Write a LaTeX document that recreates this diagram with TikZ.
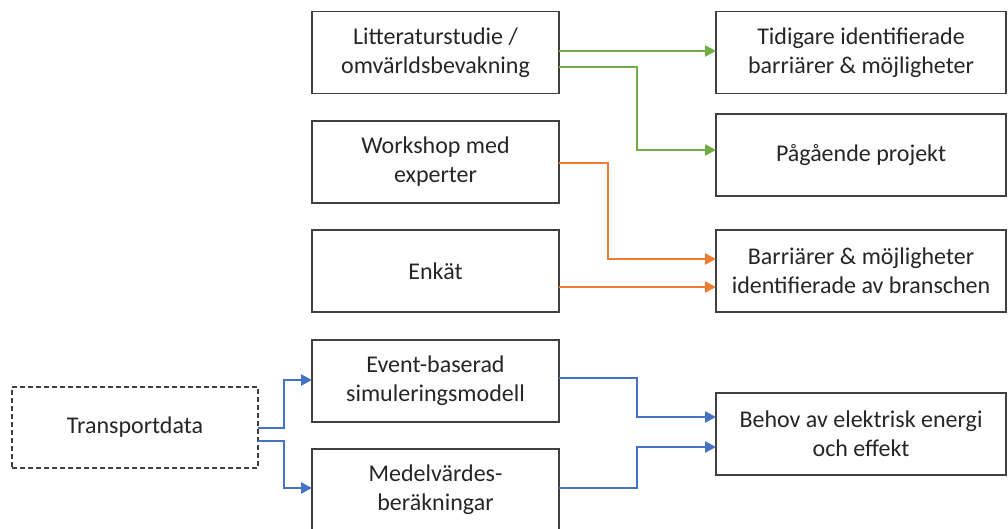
\documentclass[tikz,border=0pt]{standalone}
\usepackage{fontspec}
\setmainfont{Carlito}
\usetikzlibrary{arrows.meta}
\definecolor{boxline}{HTML}{404040}
\definecolor{txt}{HTML}{262626}
\definecolor{ggreen}{HTML}{70AD47}
\definecolor{gorange}{HTML}{ED7D31}
\definecolor{gblue}{HTML}{4472C4}
\tikzset{
  box/.style={draw=boxline, line width=1.6pt, fill=white, inner sep=0pt, outer sep=0pt,
    minimum height=82pt, align=center, text=txt,
    font=\fontsize{24}{29}\selectfont},
  leftbox/.style={box, minimum width=247pt},
  rightbox/.style={box, minimum width=290pt},
  conn/.style={line width=2.5pt, -{Triangle[length=11pt,width=11pt]}},
  gconn/.style={conn, draw=ggreen, ggreen},
  oconn/.style={conn, draw=gorange, gorange},
  bconn/.style={conn, draw=gblue, gblue},
}
\begin{document}
\begin{tikzpicture}[x=1pt,y=-1pt]
\useasboundingbox (0,0) rectangle (1008,528);
\clip (0,0) rectangle (1008,528);

\node[leftbox] (lit) at (435.5,52.5) {Litteraturstudie /\\omvärldsbevakning};
\node[leftbox] (work) at (435.5,162) {Workshop med\\experter};
\node[leftbox] (enk) at (435.5,271) {Enkät};
\node[leftbox] (event) at (435.5,381) {Event-baserad\\simuleringsmodell};
\node[leftbox] (medel) at (435.5,490) {Medelvärdes-\\beräkningar};

\node[rightbox] (tid) at (861,52.5) {Tidigare identifierade\\barriärer \& möjligheter};
\node[rightbox] (paa) at (861,155) {Pågående projekt};
\node[rightbox] (barr) at (861,271) {Barriärer \& möjligheter\\identifierade av branschen};
\node[rightbox] (behov) at (861,434) {Behov av elektrisk energi\\och effekt};

\node[box, dashed, dash pattern=on 5pt off 3pt, minimum width=246pt, minimum height=81pt] (trans) at (135,427.5) {Transportdata};

\coordinate (xg) at (637,0);
\coordinate (xo) at (608,0);
\coordinate (xb1) at (284,0);
\coordinate (xb2) at (637,0);

% green
\draw[gconn] ([yshift=1.5pt]lit.east) -- ([yshift=1.5pt]lit.east -| tid.west);
\draw[gconn] ([yshift=-14.5pt]lit.east) -| ([yshift=5pt]paa.west -| xg) -- ([yshift=5pt]paa.west);

% orange
\draw[oconn] ([yshift=-1pt]work.east) -| ([yshift=12pt]barr.west -| xo) -- ([yshift=12pt]barr.west);
\draw[oconn] ([yshift=-16pt]enk.east) -- ([yshift=-16pt]barr.west);

% blue
\draw[bconn] ([yshift=-0.5pt]trans.east) -| ([yshift=1pt]event.west -| xb1) -- ([yshift=1pt]event.west);
\draw[bconn] ([yshift=-13.5pt]trans.east) -| ([yshift=2pt]medel.west -| xb1) -- ([yshift=2pt]medel.west);
\draw[bconn] ([yshift=3pt]event.east) -| ([yshift=17pt]behov.west -| xb2) -- ([yshift=17pt]behov.west);
\draw[bconn] ([yshift=2pt]medel.east) -| ([yshift=-13pt]behov.west -| xb2) -- ([yshift=-13pt]behov.west);
\end{tikzpicture}
\end{document}
